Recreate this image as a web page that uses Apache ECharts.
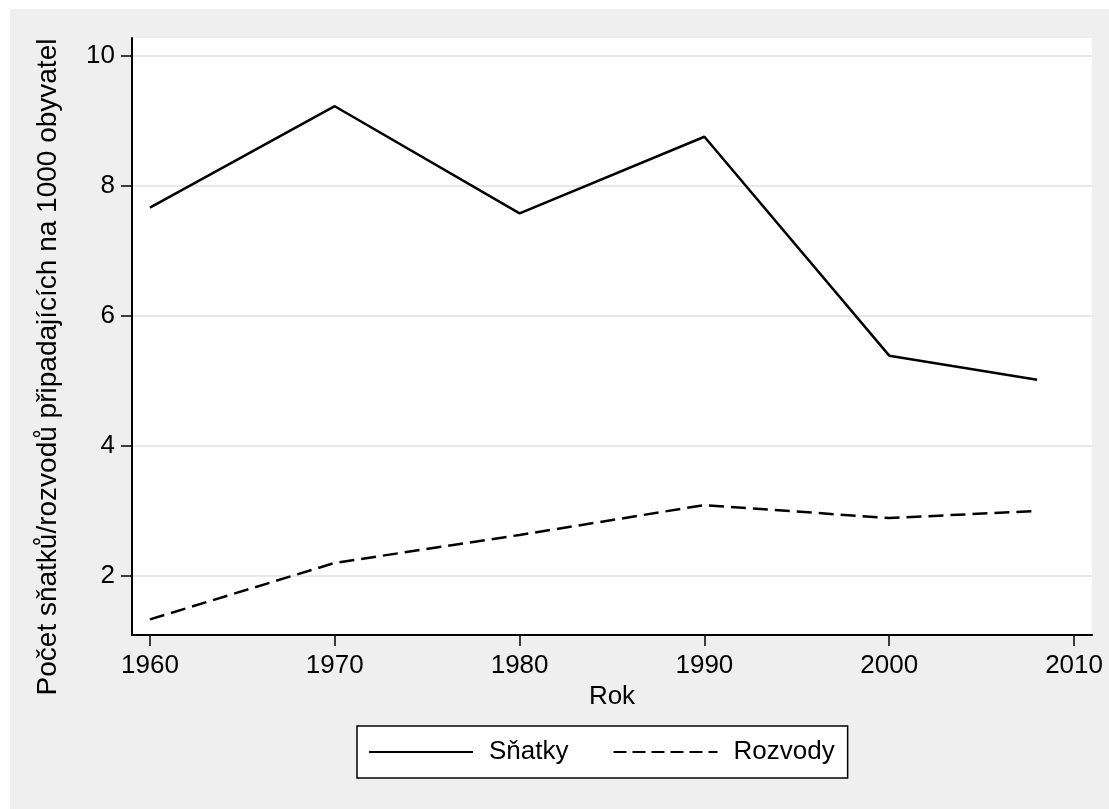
<!DOCTYPE html>
<html>
<head>
<meta charset="utf-8">
<script src="https://cdn.jsdelivr.net/npm/echarts@6/dist/echarts.min.js"></script>
<style>
    body { margin: 0; background: #fff; }
    #main { position: absolute; left: 10px; top: 9px; width: 1099px; height: 800px; }
</style>
</head>
<body>
<div id="main"></div>
<script>
// data
var roky = [1960, 1970, 1980, 1990, 2000, 2008];
var snatky = [7.67, 9.23, 7.58, 8.76, 5.39, 5.02];
var rozvody = [1.33, 2.20, 2.63, 3.09, 2.89, 3.00];
var xTicks = [1960, 1970, 1980, 1990, 2000, 2010];
var yTicks = [2, 4, 6, 8, 10];
var yTitle = 'Počet sňatků/rozvodů připadajících na 1000 obyvatel';

function pary(xs, ys) {
    var out = [];
    for (var i = 0; i < xs.length; i++) {
        out.push([xs[i], ys[i]]);
    }
    return out;
}

var font = 'Liberation Sans, Arial, sans-serif';
var myChart = echarts.init(document.getElementById('main'));

option = {
    backgroundColor: '#efefef',
    animation: false,
    textStyle: { fontFamily: font, color: '#000' },
    grid: {
        left: 122, top: 29, width: 960, height: 597,
        show: true, backgroundColor: '#fff', borderWidth: 0
    },
    // y title sits a bit lower than the plot centre, like in Stata
    graphic: [{
        type: 'text',
        x: 38, y: 358,
        rotation: Math.PI / 2,
        style: {
            text: yTitle,
            font: '28px ' + font,
            fill: '#000',
            align: 'center',
            verticalAlign: 'middle'
        }
    }],
    legend: {
        left: 347, top: 717,
        padding: [13, 13, 13, 11],
        backgroundColor: '#fff',
        borderColor: '#000',
        borderWidth: 1.5,
        borderRadius: 0,
        itemWidth: 104,
        itemHeight: 14,
        itemGap: 44,
        itemStyle: { opacity: 0 },
        textStyle: { fontSize: 26, fontFamily: font, color: '#000', padding: [0, 0, 0, 11] },
        data: [
            { name: 'Sňatky' },
            { name: 'Rozvody', lineStyle: { type: [13, 6] } }
        ]
    },
    xAxis: {
        type: 'value',
        min: 1959.03, max: 2010.97,
        name: 'Rok',
        nameLocation: 'middle',
        nameGap: 49,
        nameTextStyle: { fontSize: 26, fontFamily: font, color: '#000' },
        axisLine: { show: true, lineStyle: { color: '#000', width: 2 } },
        axisTick: { show: true, length: 11, customValues: xTicks, lineStyle: { color: '#000', width: 1.5 } },
        axisLabel: {
            customValues: xTicks, fontSize: 26, margin: 18, color: '#000', fontFamily: font,
            formatter: function (v) { return String(v); }
        },
        splitLine: { show: false }
    },
    yAxis: {
        type: 'value',
        min: 1.09, max: 10.28,
        axisLine: { show: true, lineStyle: { color: '#000', width: 2 } },
        axisTick: { show: true, length: 11, customValues: yTicks, lineStyle: { color: '#000', width: 1.5 } },
        axisLabel: { customValues: yTicks, fontSize: 26, margin: 17, color: '#000', fontFamily: font },
        splitLine: { show: true, lineStyle: { color: '#e8e8e8', width: 2 } }
    },
    series: [
        {
            name: 'Sňatky',
            type: 'line',
            data: pary(roky, snatky),
            symbol: 'none',
            lineStyle: { color: '#000', width: 2.5 },
            itemStyle: { color: '#000' }
        },
        {
            name: 'Rozvody',
            type: 'line',
            data: pary(roky, rozvody),
            symbol: 'none',
            lineStyle: { color: '#000', width: 2.5, type: [15, 7] },
            itemStyle: { color: '#000' }
        }
    ]
};
myChart.setOption(option, true);
</script>
</body>
</html>
